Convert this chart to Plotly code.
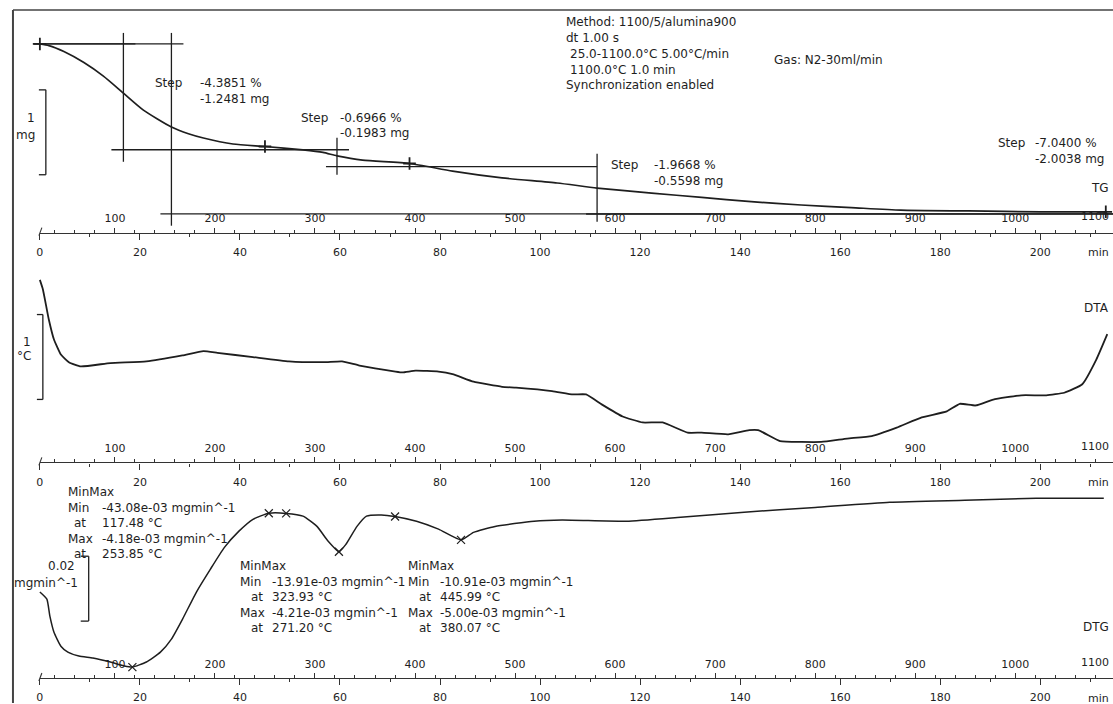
import numpy as np
import plotly.graph_objects as go

# ------------------------------------------------------------------ data
# TG (mass, mg) vs time (min)
tg_time = [0, 1.8, 4.8, 8.8, 12.7, 16.7, 20.7, 26.3, 29.7, 32.7,
           38.6, 45.0, 52.6, 56.6, 59.4, 64.5, 73.9, 82.5, 92.4, 103.4,
           111.4, 122.3, 132.3, 142.2, 152.2, 162.2, 172.1, 185.7, 200.0, 213.1]
tg_mass = [28.46, 28.44, 28.37, 28.24, 28.08, 27.88, 27.68, 27.48, 27.40, 27.35,
           27.28, 27.25, 27.21, 27.18, 27.14, 27.09, 27.05, 26.96, 26.88, 26.82,
           26.76, 26.70, 26.65, 26.60, 26.56, 26.53, 26.50, 26.49, 26.48, 26.48]
tg_marker_time = [0, 45.0, 73.9, 213.1]

# DTA (°C) vs time (min)
dta_time = [0, 0.6, 1.8, 2.8, 4.2, 5.8, 8.2, 14.1, 21.3, 28.5,
            32.7, 35.5, 42.6, 49.8, 56.8, 60.4, 63.9, 71.1, 72.5, 75.1,
            79.7, 82.5, 86.7, 92.4, 95.2, 102.4, 106.6, 109.2, 112.4, 116.5,
            120.5, 124.5, 129.5, 132.3, 137.6, 141.8, 143.6, 148.0, 152.2, 156.2,
            161.4, 166.3, 171.3, 176.3, 181.3, 183.9, 187.1, 190.6, 196.2, 201.2,
            204.8, 208.4, 211.2, 213.4]
dta_signal = [2.15, 2.04, 1.68, 1.45, 1.27, 1.18, 1.13, 1.17, 1.19, 1.26,
              1.31, 1.29, 1.24, 1.19, 1.18, 1.19, 1.14, 1.07, 1.06, 1.08,
              1.07, 1.04, 0.95, 0.89, 0.88, 0.84, 0.80, 0.80, 0.68, 0.54,
              0.47, 0.47, 0.35, 0.35, 0.33, 0.38, 0.38, 0.25, 0.24, 0.24,
              0.28, 0.31, 0.41, 0.53, 0.60, 0.69, 0.67, 0.74, 0.79, 0.79,
              0.82, 0.92, 1.21, 1.51]

# DTG (mg/min) vs time (min)
dtg_time = [0, 1.4, 2.0, 2.8, 4.2, 5.6, 7.8, 10.6, 14.1, 16.9,
            18.5, 21.3, 24.1, 26.3, 28.5, 31.3, 34.1, 36.9, 39.8, 42.6,
            45.8, 49.2, 52.6, 55.4, 57.6, 59.8, 61.2, 63.4, 65.3, 68.3,
            71.0, 75.3, 79.7, 84.2, 86.7, 91.0, 98.8, 104.4, 117.3, 128.1,
            140.8, 155.0, 169.9, 184.9, 199.2, 212.7]
dtg_rate = [-0.0241, -0.0259, -0.0302, -0.0342, -0.0378, -0.0393, -0.0403, -0.0408, -0.0418, -0.0428,
            -0.04308, -0.0418, -0.0393, -0.0360, -0.0310, -0.0241, -0.0183, -0.0128, -0.0087, -0.0057,
            -0.00418, -0.00421, -0.0049, -0.0075, -0.0112, -0.01391, -0.0120, -0.0075, -0.0049, -0.0046,
            -0.0050, -0.0062, -0.0082, -0.01091, -0.0090, -0.0075, -0.0062, -0.0059, -0.0062, -0.0052,
            -0.0039, -0.0027, -0.0014, -0.0009, -0.0004, -0.0004]

# heating program
start_temp = 25.0
heating_rate = 5.0

# TG step evaluation
tg_initial_mass = 28.46
step_pct = [-4.3851, -0.6966, -1.9668]
step_mg = [-1.2481, -0.1983, -0.5598]
total_pct = -7.0400
total_mg = -2.0038
# construction lines (time of vertical line, vertical mass span, baseline time span)
step_vert_time = [16.7, 59.4, 111.4]
step_vert_top = [28.59, 27.353, 27.164]
step_vert_bottom = [27.07, 26.917, 26.363]
step_base_start = [14.3, 57.2, 109.2]
step_base_end = [61.8, 111.4, 214.6]
step1_top_span = [-1.4, 19.1]
total_vert_time = 26.3
total_vert_span = [28.59, 26.316]
total_top_span = [-1.4, 28.7]
total_base_span = [24.1, 214.6]

# DTG MinMax evaluation
dtg_min_rate = [-43.08e-3, -13.91e-3, -10.91e-3]
dtg_min_temp = [117.48, 323.93, 445.99]
dtg_max_rate = [-4.18e-3, -4.21e-3, -5.00e-3]
dtg_max_temp = [253.85, 271.20, 380.07]

time_ticks = list(range(0, 201, 20))
temp_ticks = list(range(100, 1001, 100))

# ------------------------------------------------------------------ layout helpers
W, H = 1113, 704
X0, PXMIN = 36.0, 5.02
FONT = "DejaVu Sans"
INK = "#1e1e1e"


def px(x):
    return x / W


def py(y):
    return 1 - y / H


t_lo, t_hi = -X0 / PXMIN, (W - X0) / PXMIN
# TG: 84.9 px per mg, initial mass at y=44
tg_range = [tg_initial_mass - (H - 44) / 84.9, tg_initial_mass + 44 / 84.9]
# DTA: 85 px per °C, zero at y=463
dta_range = [(463 - H) / 85, 463 / 85]
# DTG: 3959 px per mg/min, first max at y=514
dtg_range = [dtg_max_rate[0] - (H - 514) / 3959, dtg_max_rate[0] + 514 / 3959]

fig = go.Figure()

fig.add_trace(go.Scatter(x=tg_time, y=tg_mass, mode="lines", line=dict(color=INK, width=1.7, shape="spline", smoothing=0.6),
                         xaxis="x", yaxis="y", hoverinfo="skip"))
fig.add_trace(go.Scatter(x=dta_time, y=dta_signal, mode="lines", line=dict(color=INK, width=1.8, shape="spline", smoothing=0.4),
                         xaxis="x", yaxis="y2", hoverinfo="skip"))
fig.add_trace(go.Scatter(x=dtg_time, y=dtg_rate, mode="lines", line=dict(color=INK, width=1.5, shape="spline", smoothing=0.5),
                         xaxis="x", yaxis="y3", hoverinfo="skip"))

# TG step construction lines
lx, ly = [], []
m = tg_initial_mass
levels = [m]
for d in step_mg:
    m = m + d
    levels.append(m)
lx += [step1_top_span[0], step1_top_span[1], None]
ly += [levels[0], levels[0], None]
for i in range(3):
    lx += [step_vert_time[i], step_vert_time[i], None]
    ly += [step_vert_top[i], step_vert_bottom[i], None]
    lx += [step_base_start[i], step_base_end[i], None]
    ly += [levels[i + 1], levels[i + 1], None]
total_level = tg_initial_mass + total_mg
lx += [total_top_span[0], total_top_span[1], None, total_vert_time, total_vert_time, None,
       total_base_span[0], total_base_span[1], None]
ly += [tg_initial_mass, tg_initial_mass, None, total_vert_span[0], total_vert_span[1], None,
       total_level, total_level, None]
fig.add_trace(go.Scatter(x=lx, y=ly, mode="lines", line=dict(color=INK, width=1.3),
                         xaxis="x", yaxis="y", hoverinfo="skip"))

# TG markers
fig.add_trace(go.Scatter(x=tg_marker_time, y=np.interp(tg_marker_time, tg_time, tg_mass),
                         mode="markers", marker=dict(symbol="cross-thin", size=9, line=dict(color=INK, width=1.8)),
                         xaxis="x", yaxis="y", hoverinfo="skip"))

# DTG markers (min / max positions)
mk_t = [(T - start_temp) / heating_rate for T in dtg_min_temp + dtg_max_temp]
mk_v = dtg_min_rate + dtg_max_rate
fig.add_trace(go.Scatter(x=mk_t, y=mk_v, mode="markers",
                         marker=dict(symbol="x-thin", size=8, line=dict(color=INK, width=1.2)),
                         xaxis="x", yaxis="y3", hoverinfo="skip"))

# dummy traces so the extra axes are drawn
for k in range(2, 8):
    if k <= 4:
        xs = [0, t_hi]
    else:
        xs = [start_temp, start_temp + heating_rate * t_hi]
    fig.add_trace(go.Scatter(x=xs, y=[tg_range[0], tg_range[0]], mode="markers", marker=dict(opacity=0),
                             xaxis=f"x{k}", yaxis="y", hoverinfo="skip"))

axis_rows = [233, 463, 679]
tick_font = dict(family=FONT, size=11, color=INK)
layout = dict(
    width=W, height=H, margin=dict(l=0, r=0, t=0, b=0),
    paper_bgcolor="white", plot_bgcolor="rgba(0,0,0,0)", showlegend=False,
    xaxis=dict(domain=[0, 1], range=[t_lo, t_hi], visible=False),
    yaxis=dict(domain=[0, 1], range=tg_range, visible=False),
    yaxis2=dict(domain=[0, 1], range=dta_range, visible=False, overlaying="y"),
    yaxis3=dict(domain=[0, 1], range=dtg_range, visible=False, overlaying="y"),
)
for i, yrow in enumerate(axis_rows):
    layout[f"xaxis{2 + i}"] = dict(
        domain=[px(X0), 1], range=[0, t_hi], anchor="free", position=py(yrow), side="bottom",
        showline=True, linecolor="#333", linewidth=1.4, showgrid=False, zeroline=False,
        tickmode="array", tickvals=time_ticks, ticks="outside", ticklen=6, tickwidth=1.2, tickcolor="#333",
        minor=dict(tickmode="linear", tick0=0, dtick=10, ticks="outside", ticklen=3, tickcolor="#333", showgrid=False),
        tickfont=tick_font, ticklabelstandoff=3, fixedrange=True)
    layout[f"xaxis{5 + i}"] = dict(
        domain=[px(X0), 1], range=[start_temp, start_temp + heating_rate * t_hi], anchor="free",
        position=py(yrow), side="top", showline=False, showgrid=False, zeroline=False,
        tickmode="array", tickvals=temp_ticks, ticks="outside", ticklen=5, tickwidth=1.2, tickcolor="#333",
        minor=dict(tickmode="linear", tick0=0, dtick=20, ticks="outside", ticklen=3, tickcolor="#333", showgrid=False),
        tickfont=tick_font, ticklabelstandoff=1, fixedrange=True)

ann = []


def text(s, x, y, anchor="left", size=12):
    ann.append(dict(text=s, x=px(x), y=py(y), xref="paper", yref="paper", xanchor=anchor, yanchor="middle",
                    showarrow=False, font=dict(family=FONT, size=size, color=INK)))


# method header
text("Method: 1100/5/alumina900", 562, 22)
text("dt 1.00 s", 562, 38)
text("25.0-1100.0°C 5.00°C/min", 566, 54)
text("1100.0°C 1.0 min", 566, 70)
text("Synchronization enabled", 562, 85)
text("Gas: N2-30ml/min", 771, 60)

# TG step labels
step_pos = [(150, 195, 83, 99), (296, 335, 118, 133), (607, 650, 165, 181)]
for i, (xs, xv, y1, y2) in enumerate(step_pos):
    text("Step", xs, y1)
    text(f"{step_pct[i]:.4f} %", xv, y1)
    text(f"{step_mg[i]:.4f} mg", xv, y2)
text("Step", 996, 143)
text(f"{total_pct:.4f} %", 1033, 143)
text(f"{total_mg:.4f} mg", 1033, 159)

# curve names
text("TG", 1111, 188, "right")
text("DTA", 1111, 308, "right")
text("DTG", 1111, 628, "right")

# scale bars labels
text("1", 27, 118, "center")
text("mg", 22, 135, "center")
text("1", 23, 342, "center")
text("°C", 20, 357, "center")
text("0.02", 58, 567, "center")
text("mgmin^-1", 42, 584, "center")

# DTG MinMax blocks
blocks = [(62, 84, 96, 493), (235, 262, 267, 567), (403, 431, 436, 567)]
for i, (xl, xat, xv, y0) in enumerate(blocks):
    dy = 15.5
    text("MinMax", xl, y0)
    text("Min", xl, y0 + dy)
    text(f"{dtg_min_rate[i] * 1e3:.2f}e-03 mgmin^-1", xv, y0 + dy)
    text("at", xat, y0 + 2 * dy, "right")
    text(f"{dtg_min_temp[i]:.2f} °C", xv, y0 + 2 * dy)
    text("Max", xl, y0 + 3 * dy)
    text(f"{dtg_max_rate[i] * 1e3:.2f}e-03 mgmin^-1", xv, y0 + 3 * dy)
    text("at", xat, y0 + 4 * dy, "right")
    text(f"{dtg_max_temp[i]:.2f} °C", xv, y0 + 4 * dy)

# axis end labels
for yrow in axis_rows:
    text("min", 1111, yrow + 20, "right", size=11)
    text("1100", 1111, yrow - 16, "right", size=11)

layout["annotations"] = ann

# frame + scale bars (shapes)
shapes = []


def seg(x0, y0, x1, y1, w=1.3, c=INK):
    shapes.append(dict(type="line", xref="paper", yref="paper", x0=px(x0), y0=py(y0), x1=px(x1), y1=py(y1),
                       line=dict(color=c, width=w)))


seg(9, 10, 9, H, 2, "#444")
seg(9, 10, W, 10, 1.5, "#444")
for (xa, xb, ya, yb) in [(35, 42, 90, 175), (33, 39, 315, 400), (77, 85, 557, 622)]:
    seg(xa, ya, xb, ya)
    seg(xb, ya, xb, yb)
    seg(xa, yb, xb, yb)
# small start strokes of the time axes
for yrow in axis_rows:
    seg(35, yrow + 3, 38, yrow - 5, 1.1, "#333")
layout["shapes"] = shapes

fig.update_layout(**layout)
fig.write_html("out.html")
